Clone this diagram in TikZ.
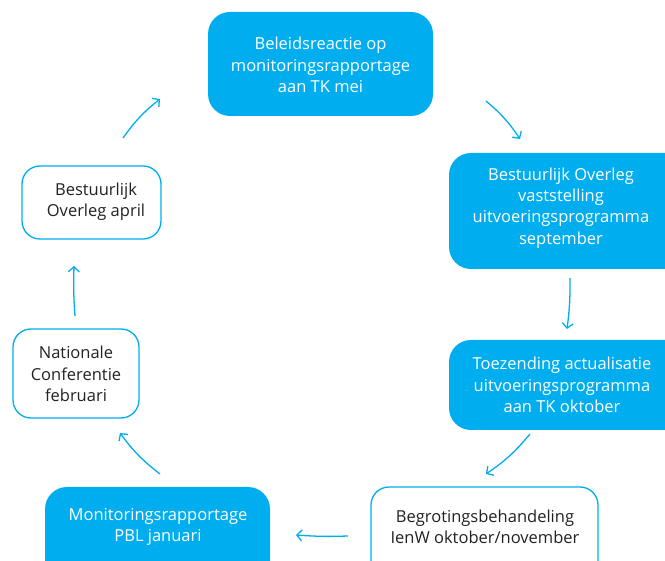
\documentclass[tikz,border=0pt]{standalone}
\usepackage{fontspec}
\setmainfont{Open Sans}
\usetikzlibrary{arrows.meta}
\definecolor{cyanbox}{HTML}{00AEEF}
\definecolor{txtdark}{HTML}{222222}
\tikzset{
  bluebox/.style={draw=none, fill=cyanbox, rounded corners=22pt, text=white, align=center, font=\fontsize{16.5}{21.3}\selectfont, inner sep=0pt},
  whitebox/.style={draw=cyanbox, line width=1.3pt, fill=white, rounded corners=18pt, text=txtdark, align=center, font=\fontsize{16.5}{21.3}\selectfont, inner sep=0pt},
  flow/.style={draw=cyanbox, line width=1.3pt, -{Straight Barb[length=5pt,width=11pt,line width=1.3pt]}},
}
\begin{document}
\begin{tikzpicture}[x=1pt,y=-1pt]
\useasboundingbox (0,0) rectangle (665,561);
\clip (0,0) rectangle (665,561);
% boxes
\path[bluebox] (208,12) rectangle (433,116);
\node[bluebox] (top) at (320.5,65) {Beleidsreactie op\\monitoringsrapportage\\aan TK mei};
\path[bluebox] (449,153) rectangle (690,269);
\node[bluebox] (r1) at (561,208) {Bestuurlijk Overleg\\vaststelling\\uitvoeringsprogramma\\september};
\path[bluebox] (449,340) rectangle (690,430);
\node[bluebox] (r2) at (562,385) {Toezending actualisatie\\uitvoeringsprogramma\\aan TK oktober};
\path[whitebox] (371,487) rectangle (598,585);
\node[whitebox, draw=none, fill=none] (br) at (485,527) {Begrotingsbehandeling\\IenW oktober/november};
\path[bluebox] (45,487) rectangle (270,585);
\node[bluebox] (bl) at (158,527) {Monitoringsrapportage\\PBL januari};
\path[whitebox] (13,329) rectangle (139,418);
\node[whitebox, draw=none, fill=none] (l2) at (76,374) {Nationale\\Conferentie\\februari};
\path[whitebox] (22,166) rectangle (161,239);
\node[whitebox, draw=none, fill=none] (l1) at (96,202) {Bestuurlijk\\Overleg april};
% arrow end points
\coordinate (a1s) at (123,138); \coordinate (a1e) at (160,99);
\coordinate (a2s) at (486,101); \coordinate (a2e) at (520,139);
\coordinate (a3s) at (570,278); \coordinate (a3e) at (567,329);
\coordinate (a4s) at (530,434); \coordinate (a4e) at (486,474);
\coordinate (a5s) at (348,536); \coordinate (a5e) at (296,535);
\coordinate (a6s) at (160,474); \coordinate (a6e) at (120,433);
\coordinate (a7s) at (75,316); \coordinate (a7e) at (74,266);
\draw[flow] (a1s) to[bend left=8] (a1e);
\draw[flow] (a2s) to[bend left=8] (a2e);
\draw[flow] (a3s) to[bend left=4] (a3e);
\draw[flow] (a4s) to[bend left=8] (a4e);
\draw[flow] (a5s) to[bend left=3] (a5e);
\draw[flow] (a6s) to[bend left=8] (a6e);
\draw[flow] (a7s) to[bend left=3] (a7e);
\end{tikzpicture}
\end{document}
